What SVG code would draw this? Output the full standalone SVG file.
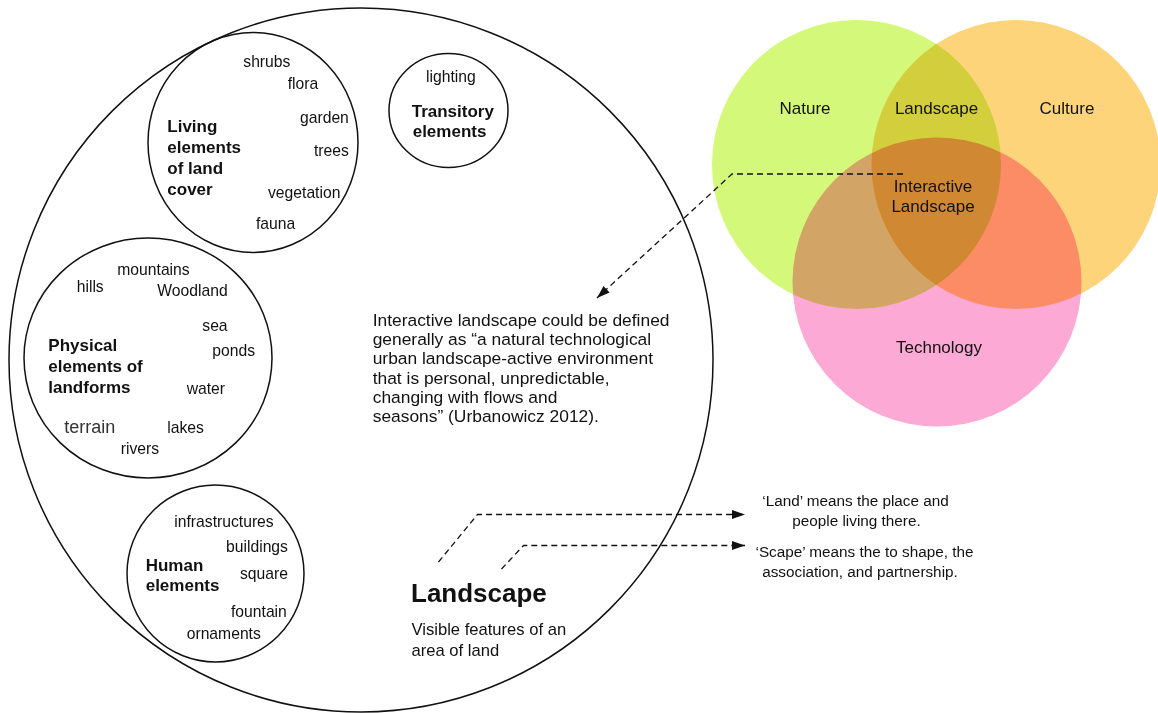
<svg xmlns="http://www.w3.org/2000/svg" width="1158" height="713" viewBox="0 0 1158 713">
  <defs>
    <style>
      text { font-family: "Liberation Sans", Arial, Helvetica, sans-serif; fill: #111; }
      .ring { fill: none; stroke: #111; stroke-width: 1.5; }
      .w { font-size: 15.7px; }
      .b { font-size: 17px; font-weight: bold; }
      .venn { mix-blend-mode: multiply; }
      .vl { font-size: 17px; text-anchor: middle; }
      .p { font-size: 17.4px; }
      .note { font-size: 15.3px; text-anchor: middle; }
      .dash { fill: none; stroke: #111; stroke-width: 1.3; stroke-dasharray: 6 4; }
    </style>
    <marker id="head" markerUnits="userSpaceOnUse" markerWidth="14" markerHeight="10" refX="13" refY="4.5" orient="auto">
      <path d="M0,0 L13,4.5 L0,9 Z" fill="#111"/>
    </marker>
  </defs>

  <rect width="1158" height="713" fill="#fff"/>

  <!-- Venn diagram: three translucent sets, overlaps darken by multiply -->
  <g id="venn">
    <circle class="venn" cx="856.5" cy="164.5" r="144.5" fill="#d4f87a"/>
    <circle class="venn" cx="1016" cy="164.5" r="144.5" fill="#fed47a"/>
    <circle class="venn" cx="937" cy="282" r="144.5" fill="#fda9d5"/>
  </g>
  <g id="venn-labels">
    <text class="vl" x="805" y="114">Nature</text>
    <text class="vl" x="936.5" y="114">Landscape</text>
    <text class="vl" x="1067" y="114">Culture</text>
    <text class="vl" x="933" y="192">Interactive</text>
    <text class="vl" x="933" y="212">Landscape</text>
    <text class="vl" x="939" y="353">Technology</text>
  </g>

  <!-- Landscape circle with its element groups -->
  <g id="landscape">
    <circle class="ring" cx="361" cy="360" r="352"/>
    <text x="411" y="602" style="font-size:26px;font-weight:bold">Landscape</text>
    <text x="411.5" y="634.5" style="font-size:16.6px">Visible features of an</text>
    <text x="411.5" y="655.5" style="font-size:16.6px">area of land</text>
  </g>

  <g id="living">
    <ellipse class="ring" cx="253" cy="142.5" rx="105" ry="110"/>
    <text class="b" x="167.3" y="132.3">Living</text>
    <text class="b" x="167.3" y="153">elements</text>
    <text class="b" x="167.3" y="173.8">of land</text>
    <text class="b" x="167.3" y="194.6">cover</text>
    <text class="w" x="243.3" y="67">shrubs</text>
    <text class="w" x="287.7" y="89">flora</text>
    <text class="w" x="300" y="123">garden</text>
    <text class="w" x="314" y="155.5">trees</text>
    <text class="w" x="268" y="197.5">vegetation</text>
    <text class="w" x="256" y="228.5">fauna</text>
  </g>

  <g id="transitory">
    <ellipse class="ring" cx="448.5" cy="110.5" rx="59.5" ry="57"/>
    <text class="w" x="426" y="82.3">lighting</text>
    <text class="b" x="411.7" y="116.7">Transitory</text>
    <text class="b" x="412.7" y="137.3">elements</text>
  </g>

  <g id="physical">
    <ellipse class="ring" cx="148" cy="358" rx="124" ry="120"/>
    <text class="b" x="48.3" y="350.7">Physical</text>
    <text class="b" x="48.3" y="371.7">elements of</text>
    <text class="b" x="48.3" y="392.7">landforms</text>
    <text class="w" x="117.3" y="275">mountains</text>
    <text class="w" x="76.7" y="291.7">hills</text>
    <text class="w" x="157.3" y="296">Woodland</text>
    <text class="w" x="202.3" y="330.7">sea</text>
    <text class="w" x="212.3" y="356">ponds</text>
    <text class="w" x="186.7" y="394.3">water</text>
    <text x="64.3" y="432.7" style="font-size:18px;fill:#333">terrain</text>
    <text class="w" x="167.3" y="433.3">lakes</text>
    <text class="w" x="120.7" y="454">rivers</text>
  </g>

  <g id="human">
    <circle class="ring" cx="215.5" cy="573.5" r="88.5"/>
    <text class="b" x="145.7" y="570.7">Human</text>
    <text class="b" x="145.7" y="591.3">elements</text>
    <text class="w" x="174.3" y="526.7">infrastructures</text>
    <text class="w" x="226" y="551.7">buildings</text>
    <text class="w" x="240" y="579.3">square</text>
    <text class="w" x="231" y="617.3">fountain</text>
    <text class="w" x="186.7" y="639">ornaments</text>
  </g>

  <g id="definition">
    <text class="p" x="372.7" y="326">Interactive landscape could be defined</text>
    <text class="p" x="372.7" y="345.2">generally as “a natural technological</text>
    <text class="p" x="372.7" y="364.4">urban landscape-active environment</text>
    <text class="p" x="372.7" y="383.6">that is personal, unpredictable,</text>
    <text class="p" x="372.7" y="402.8">changing with flows and</text>
    <text class="p" x="372.7" y="422">seasons” (Urbanowicz 2012).</text>
  </g>

  <g id="land-note">
    <text class="note" x="855.5" y="506">‘Land’ means the place and</text>
    <text class="note" x="856.5" y="526">people living there.</text>
  </g>
  <g id="scape-note">
    <text class="note" x="864.5" y="557">‘Scape’ means the to shape, the</text>
    <text class="note" x="860" y="577">association, and partnership.</text>
  </g>

  <!-- dashed connectors -->
  <g id="connectors">
    <path class="dash" d="M903,174 L732,174 L597,298" marker-end="url(#head)"/>
    <path class="dash" d="M438.5,562 L477.5,514.5 L745,514.5" marker-end="url(#head)"/>
    <path class="dash" d="M501.5,569 L523.5,545.5 L745,545.5" marker-end="url(#head)"/>
  </g>
</svg>
